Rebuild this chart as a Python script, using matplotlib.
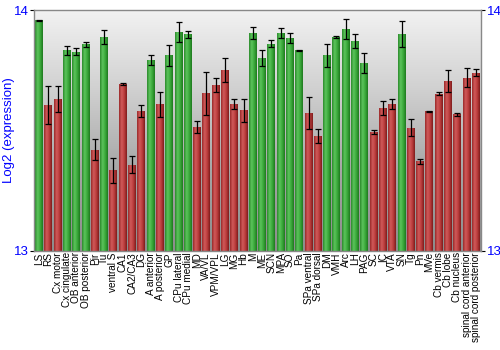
import numpy as np
import matplotlib
matplotlib.use("Agg")
import matplotlib.pyplot as plt
from matplotlib.colors import LinearSegmentedColormap

# regiony mózgu
regiony = [
    "LS", "RS", "Cx motor", "Cx cingulate", "OB anterior", "OB posterior", "Pir", "Tu",
    "ventral S", "CA1", "CA2/CA3", "DG", "A anterior", "A posterior", "GP",
    "CPu lateral", "CPu medial", "MD", "VA/VL", "VPM/VPL", "LG", "MG", "Hb",
    "M", "ME", "SCN", "MPA", "SO", "Pa", "SPa ventral", "SPa dorsal", "DM",
    "VMH", "Arc", "LH", "PAG", "SC", "IC", "VTA", "SN", "Tg", "Pn", "MVe",
    "Cb vermis", "Cb lobe", "Cb nucleus", "spinal cord anterior", "spinal cord posterior",
]

ekspresja = [
    13.958, 13.606, 13.631, 13.834, 13.827, 13.859, 13.420, 13.888,
    13.335, 13.693, 13.358, 13.581, 13.793, 13.609, 13.813,
    13.909, 13.900, 13.516, 13.654, 13.689, 13.752, 13.610, 13.585,
    13.907, 13.801, 13.860, 13.905, 13.884, 13.834, 13.573, 13.478, 13.813,
    13.888, 13.921, 13.870, 13.780, 13.495, 13.593, 13.610, 13.902, 13.512, 13.372, 13.580,
    13.653, 13.707, 13.567, 13.719, 13.741,
]

bledy = [
    0.002, 0.079, 0.055, 0.019, 0.015, 0.010, 0.044, 0.030,
    0.053, 0.003, 0.035, 0.024, 0.019, 0.053, 0.044,
    0.042, 0.015, 0.025, 0.088, 0.030, 0.050, 0.019, 0.048,
    0.025, 0.035, 0.014, 0.020, 0.021, 0.002, 0.067, 0.028, 0.048,
    0.004, 0.041, 0.029, 0.043, 0.008, 0.030, 0.022, 0.053, 0.036, 0.010, 0.002,
    0.007, 0.046, 0.005, 0.039, 0.015,
]

# 1 = zielony (wysoka), 0 = czerwony (niska)
grupa = [
    1, 0, 0, 1, 1, 1, 0, 1,
    0, 0, 0, 0, 1, 0, 1,
    1, 1, 0, 0, 0, 0, 0, 0,
    1, 1, 1, 1, 1, 1, 0, 0, 1,
    1, 1, 1, 1, 0, 0, 0, 1, 0, 0, 0,
    0, 0, 0, 0, 0,
]

niebieski = "#0000ff"
zielony = LinearSegmentedColormap.from_list("g", ["#2c8a2c", "#5cc45c", "#3aa83a", "#1f7a1f"])
czerwony = LinearSegmentedColormap.from_list("r", ["#9a2a2a", "#d05a5a", "#bb3c3c", "#7e1c1c"])
tlo = LinearSegmentedColormap.from_list("bg", ["#f2f2f2", "#d0d0d0", "#a6a6a6", "#8c8c8c"])

plt.rcParams["font.family"] = ["Liberation Sans", "DejaVu Sans"]

fig = plt.figure(figsize=(5, 3.5), dpi=100)
ax = fig.add_axes([0.068, 0.283, 0.894, 0.688])

x = np.arange(len(regiony))
ax.set_xlim(-0.55, len(regiony) - 0.45)
ax.set_ylim(13, 14)

# tło z gradientem (jasne u góry)
grad = np.linspace(0, 1, 256).reshape(-1, 1)
ax.imshow(grad, cmap=tlo, aspect="auto", origin="upper",
          extent=(-0.55, len(regiony) - 0.45, 13, 14), zorder=0)

slupki = ax.bar(x, np.array(ekspresja) - 13, bottom=13, width=0.86, color="none",
                edgecolor="none", zorder=2)
poziomy = np.linspace(0, 1, 64).reshape(1, -1)
for b, g in zip(slupki, grupa):
    x0, y0 = b.get_x(), b.get_y()
    im = ax.imshow(poziomy, cmap=zielony if g else czerwony, aspect="auto",
                   extent=(x0, x0 + b.get_width(), y0, y0 + b.get_height()), zorder=2)
    im.set_clip_path(b)

ax.errorbar(x, ekspresja, yerr=bledy, fmt="none", ecolor="black", elinewidth=0.9,
            capsize=2, capthick=0.9, zorder=3)

ax.set_xticks(x)
ax.set_xticklabels(regiony, rotation=90, fontsize=7.2, color="black")
ax.tick_params(axis="x", length=0, pad=1)

ax.set_yticks([13, 14])
ax.tick_params(axis="y", labelsize=9.5, labelcolor=niebieski, length=3, color="black",
               right=True, labelright=True, pad=1)
ax.set_ylabel("Log2 (expression)", color=niebieski, fontsize=9.5, labelpad=-1)

for s in ax.spines.values():
    s.set_color("#888888")
    s.set_linewidth(1)

fig.savefig("out.png", dpi=100)
